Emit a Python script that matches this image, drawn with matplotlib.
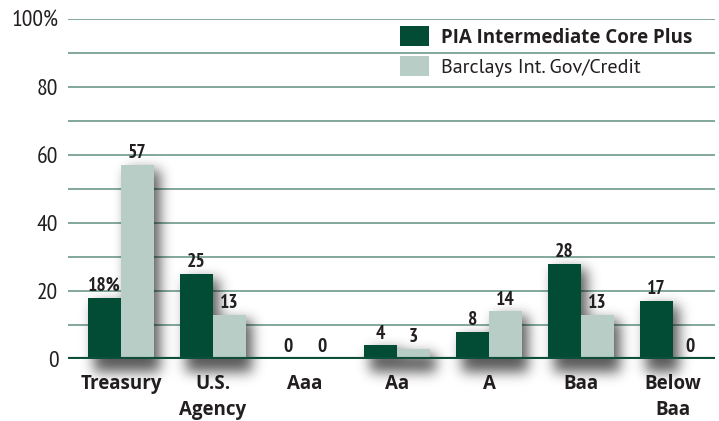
import matplotlib
matplotlib.use("Agg")
import numpy as np
import matplotlib.pyplot as plt
from matplotlib.patches import Patch

categories = ["Treasury", "U.S.\nAgency", "Aaa", "Aa", "A", "Baa", "Below\nBaa"]
pia = [18, 25, 0, 4, 8, 28, 17]
barclays = [57, 13, 0, 3, 14, 13, 0]
pia_labels = ["18%", "25", "0", "4", "8", "28", "17"]
bar_labels = ["57", "13", "0", "3", "14", "13", "0"]
series_names = ["PIA Intermediate Core Plus", "Barclays Int. Gov/Credit"]
yticks = [0, 20, 40, 60, 80, 100]
ytick_labels = ["0", "20", "40", "60", "80", "100%"]

NARROW = ["PT Sans Narrow", "DejaVu Sans"]
HUMAN = ["PT Sans", "DejaVu Sans"]
WIDE = ["Open Sans", "DejaVu Sans"]
plt.rcParams['font.family'] = HUMAN

dark = "#024b34"
light = "#b8cdc6"
grid_c = "#7aa394"
txt_c = "#231f20"

W, H = 719, 421
fig = plt.figure(figsize=(W/100, H/100), dpi=100)
ax = fig.add_axes([68/W, 1 - 359/H, (715-68)/W, 340/H])
ax.patch.set_visible(False)

w = 0.36
x = np.arange(len(categories))

b1 = ax.bar(x - w/2, pia, width=w, color=dark, zorder=4)
b2 = ax.bar(x + w/2, barclays, width=w, color=light, zorder=4)
ax.set_xlim(-0.576, 6.457)
ax.set_ylim(0, 100)

for g in range(10, 101, 10):
    ax.axhline(g, color=grid_c, lw=1.3, zorder=1)
ax.axhline(0, color="#0d4f3a", lw=3, zorder=5)

for xi, v, l in zip(x, pia, pia_labels):
    ax.text(xi - w/2, v + 2, l, ha="center", va="baseline", fontsize=14,
            fontweight="bold", color=txt_c, zorder=6, family=NARROW)
for xi, v, l in zip(x, barclays, bar_labels):
    ax.text(xi + w/2, v + 2, l, ha="center", va="baseline", fontsize=14,
            fontweight="bold", color=txt_c, zorder=6, family=NARROW)

ax.set_yticks(yticks)
ax.set_yticklabels(ytick_labels, fontsize=17, color=txt_c, family=NARROW)
ax.set_xticks(x)
ax.set_xticklabels(categories, fontsize=13.5, fontweight="bold", color=txt_c,
                   linespacing=1.35, family=WIDE)
ax.tick_params(axis="both", length=0)
ax.tick_params(axis="y", pad=7)
ax.tick_params(axis="x", pad=11)
for s in ax.spines.values():
    s.set_visible(False)

handles = [Patch(facecolor=dark, edgecolor="none"), Patch(facecolor=light, edgecolor="none")]
leg = ax.legend(handles, series_names, loc="upper left", bbox_to_anchor=(0.513, 0.978),
                frameon=False, fontsize=14.5, handlelength=1.45, handleheight=1.15,
                handletextpad=0.58, labelspacing=0.38, borderpad=0, borderaxespad=0)
leg.get_texts()[0].set_fontweight("bold")
leg.get_texts()[0].set_family(WIDE)
leg.get_texts()[0].set_fontsize(13.5)
for t in leg.get_texts():
    t.set_color(txt_c)

# soft drop shadow built from the drawn bar extents
fig.canvas.draw()
mask = np.zeros((H, W))
off_x, off_y = 6, 5
for p in list(b1) + list(b2):
    bb = p.get_window_extent()
    if bb.height < 1:
        continue
    x0 = int(round(bb.x0)) + off_x
    x1 = int(round(bb.x1)) + off_x
    y0 = int(round(bb.y0)) - off_y - 8
    y1 = int(round(bb.y1)) - off_y
    mask[max(y0, 0):max(y1, 0), max(x0, 0):min(x1, W)] = 1.0

sig = 6.5
r = int(3 * sig)
k = np.exp(-0.5 * (np.arange(-r, r + 1) / sig) ** 2)
k /= k.sum()
blur = np.apply_along_axis(lambda v: np.convolve(v, k, mode="same"), 0, mask)
blur = np.apply_along_axis(lambda v: np.convolve(v, k, mode="same"), 1, blur)
rgba = np.zeros((H, W, 4))
rgba[..., 3] = np.clip(blur * 0.65, 0, 1)
ax.imshow(rgba, extent=[0, 1, 0, 1], transform=fig.transFigure, origin="lower",
          aspect="auto", zorder=2, clip_on=False, interpolation="bilinear")
ax.set_xlim(-0.576, 6.457)
ax.set_ylim(0, 100)

fig.savefig("out.png", dpi=100)
